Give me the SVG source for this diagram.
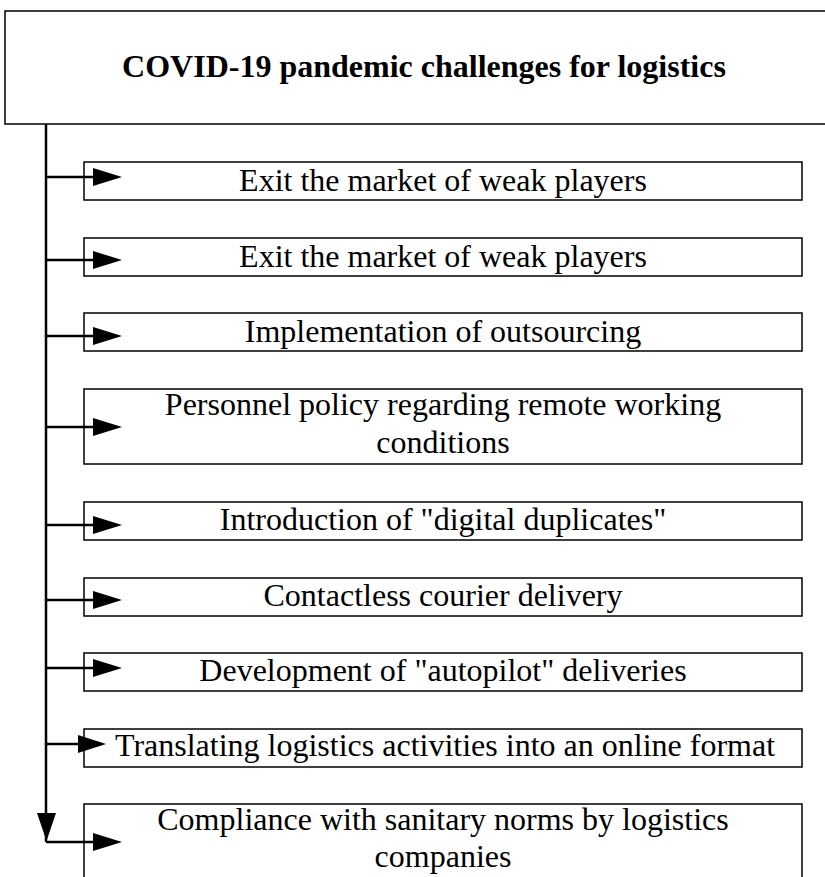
<svg xmlns="http://www.w3.org/2000/svg" width="825" height="877" viewBox="0 0 825 877">
<style>
.box{fill:#fff;stroke:#000;stroke-width:1.5}
.t{font-family:"Liberation Serif","Times New Roman",serif;font-size:32px;fill:#000;text-anchor:middle}
.title{font-family:"Liberation Serif","Times New Roman",serif;font-size:32px;font-weight:bold;fill:#000;text-anchor:middle}
.ln{stroke:#000;stroke-width:2.5;fill:none}
.ah{fill:#000}
</style>
<rect width="825" height="877" fill="#fff"/>
<g id="title">
<rect class="box" x="5" y="11" width="830" height="113"/>
<text class="title" x="424" y="77">COVID-19 pandemic challenges for logistics</text>
</g>
<g id="n1"><rect class="box" x="84" y="162" width="718" height="38"/><text class="t" x="443" y="191">Exit the market of weak players</text></g>
<g id="n2"><rect class="box" x="84" y="238" width="718" height="38"/><text class="t" x="443" y="267">Exit the market of weak players</text></g>
<g id="n3"><rect class="box" x="84" y="313" width="718" height="38"/><text class="t" x="443" y="342">Implementation of outsourcing</text></g>
<g id="n4"><rect class="box" x="84" y="389" width="718" height="75"/><text class="t" x="443" y="415">Personnel policy regarding remote working</text><text class="t" x="443" y="453">conditions</text></g>
<g id="n5"><rect class="box" x="84" y="502" width="718" height="38"/><text class="t" x="443" y="530">Introduction of "digital duplicates"</text></g>
<g id="n6"><rect class="box" x="84" y="578" width="718" height="38"/><text class="t" x="443" y="606">Contactless courier delivery</text></g>
<g id="n7"><rect class="box" x="84" y="653" width="718" height="38"/><text class="t" x="443" y="681">Development of "autopilot" deliveries</text></g>
<g id="n8"><rect class="box" x="84" y="729" width="718" height="38"/><text class="t" x="445" y="756">Translating logistics activities into an online format</text></g>
<g id="n9"><rect class="box" x="84" y="804" width="718" height="80"/><text class="t" x="443" y="830">Compliance with sanitary norms by logistics</text><text class="t" x="443" y="867">companies</text></g>
<g id="connectors">
<path class="ln" d="M46,124 V842"/>
<polygon class="ah" points="37,813 56,813 46.5,841"/>
<path class="ln" d="M46,177 H95 M46,260 H95 M46,336 H95 M46,427 H95 M46,525 H95 M46,600 H95 M46,668 H95 M46,744 H80 M46,842 H95"/>
<polygon class="ah" points="93,168 122,177 93,186"/>
<polygon class="ah" points="93,251 122,260 93,269"/>
<polygon class="ah" points="93,327 122,336 93,345"/>
<polygon class="ah" points="93,418 122,427 93,436"/>
<polygon class="ah" points="93,516 122,525 93,534"/>
<polygon class="ah" points="93,591 122,600 93,609"/>
<polygon class="ah" points="93,659 122,668 93,677"/>
<polygon class="ah" points="78,735 106,744 78,753"/>
<polygon class="ah" points="93,833 122,842 93,851"/>
</g>
</svg>
